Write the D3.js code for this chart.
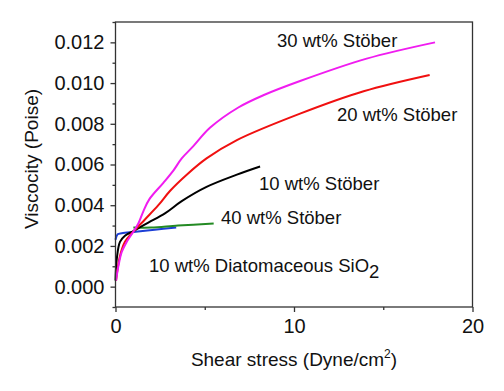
<!DOCTYPE html>
<html>
<head>
<meta charset="utf-8">
<script src="https://cdn.jsdelivr.net/npm/d3@7"></script>
<style>
  body { margin: 0; background: #fff; }
  text { font-family: "Liberation Sans", Arial, sans-serif; fill: #111; }
</style>
</head>
<body>
<svg id="chart" width="504" height="391"></svg>
<script>
// values: [shear stress, viscosity]
const stober30 = [[0.03,0.0003],[0.16,0.001],[0.35,0.0017],[0.63,0.0022],[1.0,0.0027],[1.28,0.0031],[1.56,0.0037],[1.9,0.0043],[2.68,0.0051],[3.24,0.0057],[3.71,0.0063],[4.36,0.0069],[5.29,0.0078],[6.88,0.0088],[8.28,0.0094],[10.34,0.0101],[14.07,0.0112],[17.9,0.012]];
const stober20 = [[0.03,0.0003],[0.25,0.0015],[0.53,0.0022],[1.0,0.0027],[1.65,0.0033],[2.4,0.0040],[3.05,0.0047],[3.99,0.0055],[5.1,0.0063],[6.8,0.0072],[10.34,0.0085],[13.9,0.0096],[17.6,0.0104]];
const stober10 = [[0.0,0.0003],[0.07,0.00135],[0.25,0.0022],[0.53,0.0025],[1.0,0.00273],[1.84,0.00315],[2.77,0.0036],[3.71,0.0042],[5.1,0.0049],[6.8,0.0055],[8.1,0.0059]];
const stober40 = [[1.0,0.0029],[2.0,0.0029],[3.5,0.003],[5.5,0.0031]];
const diatom10 = [[0.0,0.0023],[0.12,0.00257],[0.35,0.00262],[1.0,0.00269],[2.2,0.0028],[3.4,0.0029]];

const xTicks = [0, 10, 20];
const xMinor = [5, 15];
const yTicks = [0, 0.002, 0.004, 0.006, 0.008, 0.010, 0.012];
const yMinor = [-0.001, 0.001, 0.003, 0.005, 0.007, 0.009, 0.011, 0.013];

const seriesList = [
  {name: "10 wt% Diatomaceous SiO2", values: diatom10, colour: "#1c3fd6"},
  {name: "40 wt% Stöber", values: stober40, colour: "#238a23"},
  {name: "10 wt% Stöber", values: stober10, colour: "#000000"},
  {name: "20 wt% Stöber", values: stober20, colour: "#f01010"},
  {name: "30 wt% Stöber", values: stober30, colour: "#f01cf0"}
];

const margin = {left: 115.5, right: 31.5, top: 22, bottom: 84};
const W = 504, H = 391;
const plotW = W - margin.left - margin.right;
const plotH = H - margin.top - margin.bottom;

const svg = d3.select("#chart");
const plot = svg.append("g").attr("transform", "translate(" + margin.left + "," + margin.top + ")");

const x = d3.scaleLinear().domain([0, 20]).range([0, plotW]);
const y = d3.scaleLinear().domain([-0.001, 0.013]).range([plotH, 0]);

const line = d3.line()
  .x(d => x(d[0]))
  .y(d => y(d[1]))
  .curve(d3.curveCatmullRom.alpha(0.5));

seriesList.forEach(function(s){
  plot.append("path")
    .datum(s.values)
    .attr("fill", "none")
    .attr("stroke", s.colour)
    .attr("stroke-width", 2)
    .attr("d", line);
});

// frame
plot.append("rect")
  .attr("width", plotW).attr("height", plotH)
  .attr("fill", "none").attr("stroke", "#333").attr("stroke-width", 1.3);

// x axis
const xAxis = plot.append("g").attr("transform", "translate(0," + plotH + ")");
xAxis.call(d3.axisBottom(x).tickValues(xTicks).tickSize(5).tickPadding(7).tickFormat(d3.format("d")));
xAxis.append("g").call(d3.axisBottom(x).tickValues(xMinor).tickSize(3).tickFormat(""));
xAxis.selectAll(".domain").remove();
xAxis.selectAll("line").attr("stroke", "#333").attr("stroke-width", 1.3);
xAxis.selectAll("text").style("font-size", "20px").attr("fill", "#111");

// y axis
const yAxis = plot.append("g");
yAxis.call(d3.axisLeft(y).tickValues(yTicks).tickSize(5).tickPadding(6).tickFormat(d3.format(".3f")));
yAxis.append("g").call(d3.axisLeft(y).tickValues(yMinor).tickSize(3).tickFormat(""));
yAxis.selectAll(".domain").remove();
yAxis.selectAll("line").attr("stroke", "#333").attr("stroke-width", 1.3);
yAxis.selectAll("text").style("font-size", "20px").attr("fill", "#111");

// axis titles
const xTitle = svg.append("text")
  .attr("x", margin.left + plotW / 2)
  .attr("y", 366)
  .attr("text-anchor", "middle")
  .style("font-size", "19px");
xTitle.append("tspan").text("Shear stress (Dyne/cm");
xTitle.append("tspan").text("2").style("font-size", "12px").attr("dy", -8);
xTitle.append("tspan").text(")").attr("dy", 8);

svg.append("text")
  .attr("transform", "translate(38,159) rotate(-90)")
  .attr("text-anchor", "middle")
  .style("font-size", "19px")
  .text("Viscocity (Poise)");

// curve labels
const labels = [
  {text: "30 wt% Stöber", x: 277, y: 47},
  {text: "20 wt% Stöber", x: 337, y: 121},
  {text: "10 wt% Stöber", x: 259, y: 190},
  {text: "40 wt% Stöber", x: 221, y: 224}
];
labels.forEach(function(l){
  svg.append("text").attr("x", l.x).attr("y", l.y).style("font-size", "18.5px").text(l.text);
});
const dl = svg.append("text").attr("x", 149).attr("y", 272).style("font-size", "18.5px");
dl.append("tspan").text("10 wt% Diatomaceous SiO");
dl.append("tspan").text("2").attr("dy", 6).style("font-size", "18.5px");
</script>
</body>
</html>
